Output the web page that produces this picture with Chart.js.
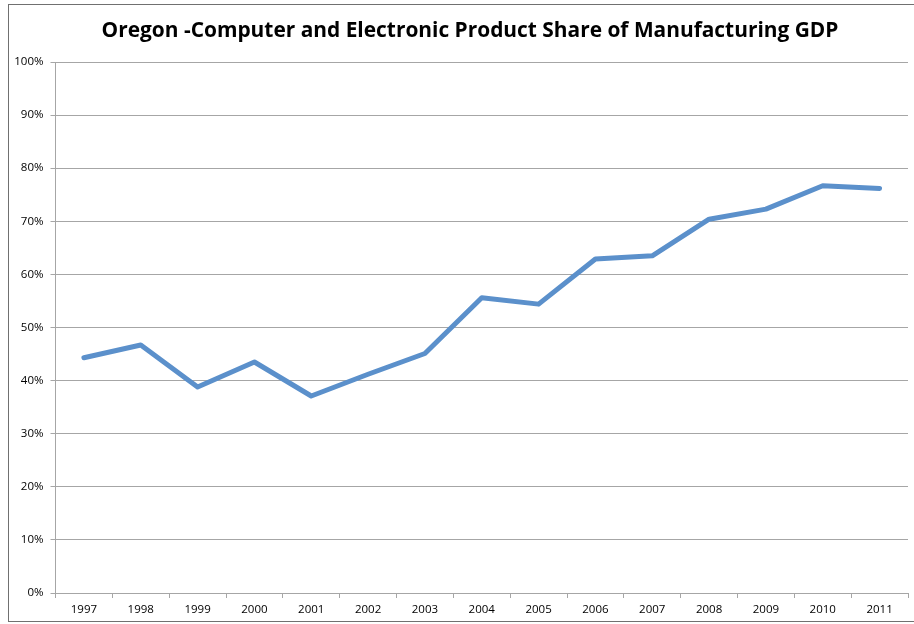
<!DOCTYPE html>
<html lang="en">

<head>
    <meta charset="UTF-8">
    <title>Oregon - Computer and Electronic Product Share</title>
    <style>
        body { margin: 0; background: #fff; overflow: hidden; }
        #wrap { position: relative; width: 914px; height: 624px; }
    </style>
</head>

<body>
    <div id="wrap">
        <canvas id="share-chart"></canvas>
    </div>

    <script src="https://cdn.jsdelivr.net/npm/chart.js"></script>

    <script>
        const chartTitle = 'Oregon -Computer and Electronic Product Share of Manufacturing GDP';
        const years = ['1997', '1998', '1999', '2000', '2001', '2002', '2003', '2004',
            '2005', '2006', '2007', '2008', '2009', '2010', '2011'];
        const sharePct = [44.3, 46.7, 38.8, 43.5, 37.1, 41.2, 45.1, 55.6,
            54.4, 62.9, 63.5, 70.4, 72.3, 76.7, 76.2];
        const yTicks = [0, 10, 20, 30, 40, 50, 60, 70, 80, 90, 100];

        const tickFont = { family: '"Open Sans", sans-serif', size: 11.5 };
        const gridGray = '#a6a6a6';

        // frame round the chart + title placed like the original
        const frameAndTitle = {
            id: 'frameAndTitle',
            afterDraw(chart) {
                const ctx = chart.ctx;
                ctx.save();
                ctx.strokeStyle = '#707070';
                ctx.lineWidth = 1;
                ctx.strokeRect(8.5, 4.5, 920, 617);
                ctx.fillStyle = '#000';
                ctx.font = 'bold 20.9px "Open Sans", sans-serif';
                ctx.textAlign = 'center';
                ctx.textBaseline = 'middle';
                ctx.fillText(chartTitle, 470, 31);
                ctx.restore();
            }
        };

        new Chart(document.getElementById('share-chart'), {
            type: 'line',
            data: {
                labels: years,
                datasets: [{
                    label: 'Share',
                    data: sharePct,
                    borderColor: '#5b90cb',
                    borderWidth: 5,
                    borderCapStyle: 'round',
                    borderJoinStyle: 'round',
                    pointRadius: 0,
                    tension: 0
                }]
            },
            options: {
                responsive: true,
                maintainAspectRatio: false,
                animation: false,
                layout: { padding: { left: 8, right: 6, top: 62, bottom: 4 } },
                plugins: {
                    legend: { display: false },
                    title: { display: false },
                    tooltip: { enabled: false }
                },
                scales: {
                    x: {
                        offset: true,
                        grid: {
                            offset: true,
                            drawOnChartArea: false,
                            drawTicks: true,
                            tickLength: 5,
                            color: gridGray
                        },
                        border: { color: gridGray },
                        ticks: { font: tickFont, color: '#000', padding: 5, maxRotation: 0 },
                        afterFit: s => { s.height = 27; }
                    },
                    y: {
                        min: 0,
                        max: 100,
                        afterBuildTicks: s => { s.ticks = yTicks.map(v => ({ value: v })); },
                        grid: { color: gridGray, tickLength: 5 },
                        border: { color: gridGray },
                        ticks: {
                            font: tickFont,
                            color: '#000',
                            padding: 7,
                            callback: v => v + '%'
                        },
                        afterFit: s => { s.width = 47.5; }
                    }
                }
            },
            plugins: [frameAndTitle]
        });
    </script>
</body>

</html>
